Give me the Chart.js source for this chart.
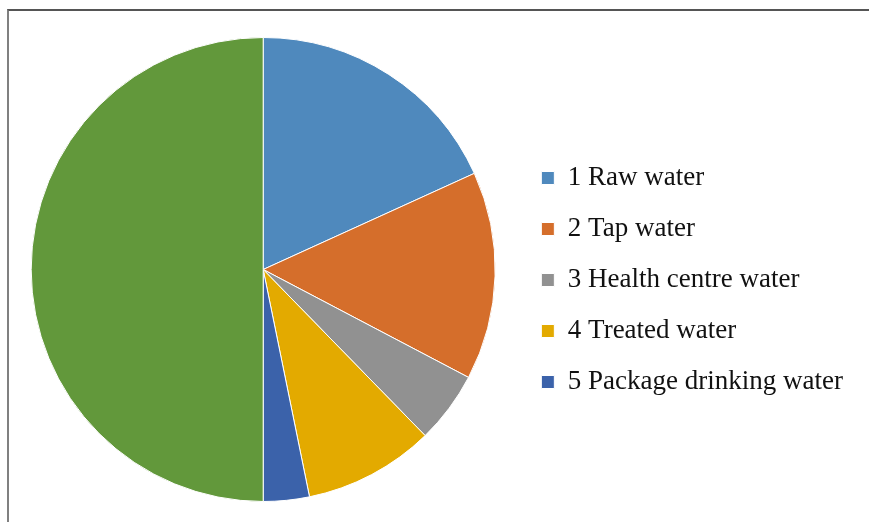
<!DOCTYPE html>
<html>
<head>
<meta charset="utf-8">
<script src="https://cdn.jsdelivr.net/npm/chart.js@4"></script>
<style>
  html, body { margin: 0; padding: 0; background: #fff; }
  #wrap { position: relative; width: 869px; height: 522px; overflow: hidden; }
  #frame {
    position: absolute; left: 7px; top: 9px; width: 880px; height: 540px;
    border-top: 2px solid #555; border-left: 2px solid #808080;
  }
  canvas { position: absolute; left: 0; top: 0; }
</style>
</head>
<body>
<div id="wrap">
  <div id="frame"></div>
  <canvas id="waterPie" width="869" height="522"></canvas>
</div>
<script>
// water source shares (%), the last slice has no legend entry
const sourceLabels = ['1 Raw water', '2 Tap water', '3 Health centre water', '4 Treated water', '5 Package drinking water'];
const sourceShares = [18.2, 14.5, 5.0, 9.1, 3.2, 50.0];
const sliceColors = ['#4f89bd', '#d56e2b', '#919191', '#e3aa00', '#3b62aa', '#62983b'];

// push the legend block down a little below the pie centre
const legendNudge = {
    id: 'legendNudge',
    afterLayout(chart) {
        chart.legend.top += 21;
    }
};

const ctx = document.getElementById('waterPie').getContext('2d');

new Chart(ctx, {
    type: 'pie',
    data: {
        labels: sourceLabels,
        datasets: [{
            data: sourceShares,
            backgroundColor: sliceColors,
            borderColor: '#ffffff',
            borderWidth: 1
        }]
    },
    options: {
        responsive: false,
        animation: false,
        layout: {
            padding: { left: 9, right: 16, top: 37, bottom: 20 }
        },
        plugins: {
            legend: {
                position: 'right',
                labels: {
                    boxWidth: 13,
                    boxHeight: 13,
                    padding: 24,
                    color: '#111',
                    font: { family: 'Liberation Serif', size: 27 }
                }
            },
            tooltip: { enabled: false }
        }
    },
    plugins: [legendNudge]
});
</script>
</body>
</html>
